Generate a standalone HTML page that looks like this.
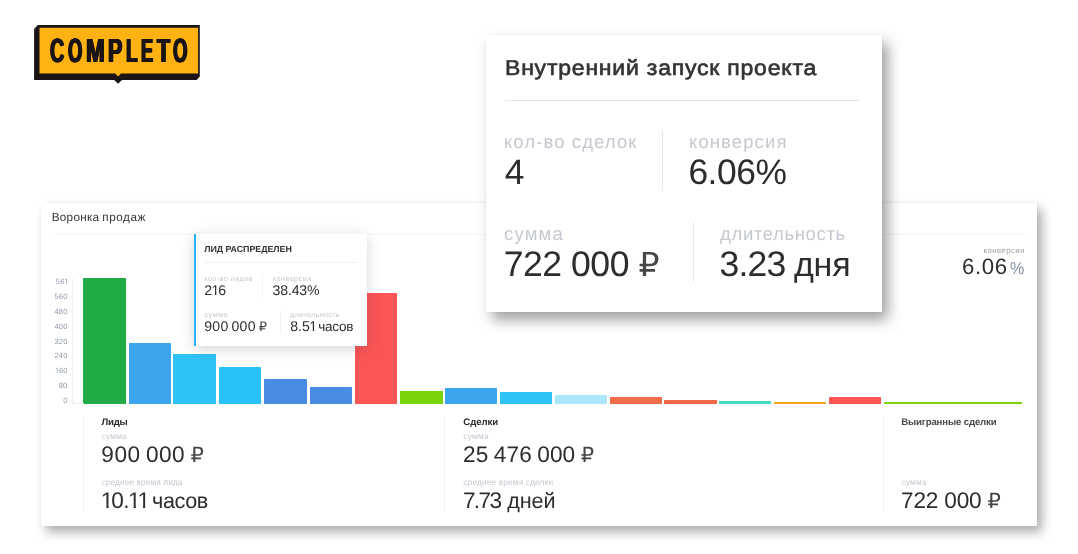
<!DOCTYPE html>
<html lang="ru">
<head>
<meta charset="utf-8">
<title>Completo — Воронка продаж</title>
<style>
*{margin:0;padding:0;box-sizing:border-box}
html,body{width:1078px;height:554px;overflow:hidden;background:#fff}
body{position:relative;font-family:"Liberation Sans", "DejaVu Sans", sans-serif;-webkit-font-smoothing:antialiased;text-rendering:geometricPrecision}
.t{position:absolute;white-space:pre;line-height:1}
.r{font-family:"DejaVu Sans",sans-serif;font-size:0.93em;opacity:.88}
.one{display:inline-block;margin:0 -0.075em 0 -0.045em}

.z1{z-index:1}.z2{z-index:2}.z3{z-index:3}.z4{z-index:4}.z5{z-index:5}.z6{z-index:6}
.abs{position:absolute}
.card{position:absolute;background:#fff}
#main{left:41px;top:203px;width:996px;height:322.5px;z-index:1;border-radius:1.5px;box-shadow:5px 6px 11px rgba(0,0,0,.33),0 0 2px rgba(0,0,0,.05)}
#tip{left:194px;top:234px;width:173px;height:112px;z-index:3;border-left:2px solid #2bb5f5;box-shadow:0 3px 13px rgba(40,50,70,.2)}
#pop{left:486px;top:35px;width:396px;height:276.5px;z-index:5;box-shadow:6px 8px 13px rgba(0,0,0,.37),0 0 2px rgba(0,0,0,.05)}
.ln{position:absolute;background:#ececee}
.bar{position:absolute;z-index:2;border-radius:.6px .6px 0 0}
#logo{position:absolute;left:30px;top:20px;width:180px;height:70px;z-index:1}
#logot{position:absolute;left:0;z-index:2;font-weight:700;font-size:33.6px;line-height:1;color:#1a1416;white-space:nowrap}
#logot span{position:absolute;top:0;transform-origin:0 0;text-shadow:1.2px 0 0 #1a1416,-1.2px 0 0 #1a1416,0.6px 0 0 #1a1416,-0.6px 0 0 #1a1416}
</style>
</head>
<body>
<header id="brand">
<svg id="logo" viewBox="30 20 180 70">
<polygon points="34.1,29 37.9,25.1 199.8,25.1 199.8,76.6 196.6,80.1 122,80.1 118.1,83.8 114.2,80.1 34.1,80.1" fill="#1a1416"/>
<polygon points="39.5,27.7 198.1,27.7 198.1,73.6 121,73.6 118.1,76.5 115.2,73.6 39.5,73.6" fill="#ffb211"/>
</svg>
<div id="logot" style="top:34.66px"><span style="left:49.70px;transform:scaleX(0.587)">C</span><span style="left:67.60px;transform:scaleX(0.548)">O</span><span style="left:85.50px;transform:scaleX(0.668)">M</span><span style="left:108.03px;transform:scaleX(0.640)">P</span><span style="left:126.31px;transform:scaleX(0.565)">L</span><span style="left:140.63px;transform:scaleX(0.541)">E</span><span style="left:156.92px;transform:scaleX(0.636)">T</span><span style="left:173.40px;transform:scaleX(0.555)">O</span></div>
</header>
<main>
<section id="funnel">
<div id="main" class="card"></div>
<div id="chart">
<div class="bar" style="left:83.35px;top:277.6px;width:42.6px;height:126.1px;background:#21ab47"></div>
<div class="bar" style="left:128.7px;top:343.0px;width:42.25px;height:60.7px;background:#3aa4ec"></div>
<div class="bar" style="left:173.35px;top:354.1px;width:42.85px;height:49.6px;background:#2fc3f5"></div>
<div class="bar" style="left:219.0px;top:367.2px;width:42.3px;height:36.5px;background:#29c1f7"></div>
<div class="bar" style="left:264.1px;top:379.3px;width:42.8px;height:24.4px;background:#488ce3"></div>
<div class="bar" style="left:309.7px;top:386.9px;width:42.3px;height:16.8px;background:#488ce3"></div>
<div class="bar" style="left:354.9px;top:293.2px;width:42.3px;height:110.5px;background:#fb5555"></div>
<div class="bar" style="left:400.0px;top:390.5px;width:42.5px;height:13.2px;background:#7bd40a"></div>
<div class="bar" style="left:445.15px;top:387.8px;width:52.2px;height:15.9px;background:#3aa4ec"></div>
<div class="bar" style="left:499.95px;top:392.2px;width:52.2px;height:11.5px;background:#2fc3f5"></div>
<div class="bar" style="left:554.75px;top:394.8px;width:52.2px;height:8.9px;background:#abe6fa"></div>
<div class="bar" style="left:609.55px;top:396.8px;width:52.2px;height:6.9px;background:#f56e4b"></div>
<div class="bar" style="left:664.35px;top:399.9px;width:52.2px;height:3.8px;background:#f06848"></div>
<div class="bar" style="left:719.15px;top:400.9px;width:52.2px;height:2.8px;background:#45dbc0"></div>
<div class="bar" style="left:773.95px;top:401.6px;width:52.2px;height:2.1px;background:#f8a325"></div>
<div class="bar" style="left:828.75px;top:397.0px;width:52.2px;height:6.7px;background:#fb5555"></div>
<div class="bar" style="left:883.7px;top:401.5px;width:138.3px;height:2.2px;background:#7bd40a"></div>
</div>
<div class="ln" style="left:52px;top:234.3px;width:972.5px;height:1px;background:#f5f5f7;z-index:2"></div>
<div class="ln" style="left:72px;top:277.6px;width:1px;height:126px;background:#f1f1f3;z-index:2"></div>
<div class="ln" style="left:72px;top:402.8px;width:12px;height:1px;background:#f1f1f3;z-index:2"></div>
<div class="ln" style="left:83.1px;top:415.8px;width:1px;height:96px;background:#f3f3f5;z-index:2"></div>
<div class="ln" style="left:443.9px;top:415.8px;width:1px;height:96px;background:#f3f3f5;z-index:2"></div>
<div class="ln" style="left:883.2px;top:415.8px;width:1px;height:96px;background:#f3f3f5;z-index:2"></div>
<div class="t z2" style="left:51.7px;top:212.1px;font-size:11.7px;font-weight:400;color:#333;letter-spacing:0.298px;">Воронка</div>
<div class="t z2" style="left:102.31px;top:212.1px;font-size:11.7px;font-weight:400;color:#333;letter-spacing:0.56px;">продаж</div>
<div class="t z2" style="left:55.83px;top:277.57px;font-size:7.6px;font-weight:400;color:#9198a5;letter-spacing:0.2px;">56<span class="one" style="clip-path:polygon(0 0,3.18px 0,3.18px 5.56px,2.68px 5.56px,2.68px 9.6px,1.81px 9.6px,1.81px 5.56px,0 5.56px)">1</span></div>
<div class="t z2" style="left:54.4px;top:292.57px;font-size:7.6px;font-weight:400;color:#9198a5;letter-spacing:0.2px;">560</div>
<div class="t z2" style="left:54.4px;top:307.57px;font-size:7.6px;font-weight:400;color:#9198a5;letter-spacing:0.2px;">480</div>
<div class="t z2" style="left:54.4px;top:322.57px;font-size:7.6px;font-weight:400;color:#9198a5;letter-spacing:0.2px;">400</div>
<div class="t z2" style="left:54.4px;top:337.57px;font-size:7.6px;font-weight:400;color:#9198a5;letter-spacing:0.2px;">320</div>
<div class="t z2" style="left:54.4px;top:351.57px;font-size:7.6px;font-weight:400;color:#9198a5;letter-spacing:0.2px;">240</div>
<div class="t z2" style="left:55.37px;top:366.57px;font-size:7.6px;font-weight:400;color:#9198a5;letter-spacing:0.2px;"><span class="one" style="clip-path:polygon(0 0,3.18px 0,3.18px 5.56px,2.68px 5.56px,2.68px 9.6px,1.81px 9.6px,1.81px 5.56px,0 5.56px)">1</span>60</div>
<div class="t z2" style="left:58.67px;top:381.57px;font-size:7.6px;font-weight:400;color:#9198a5;letter-spacing:0.2px;">80</div>
<div class="t z2" style="left:63.37px;top:396.57px;font-size:7.6px;font-weight:400;color:#9198a5;letter-spacing:0.2px;">0</div>
<div class="t z2" style="left:983.51px;top:247.4px;font-size:7.8px;font-weight:400;color:#9c9c9c;letter-spacing:0.43px;">конверсия</div>
<div class="t z2" style="left:962.0px;top:256.21px;font-size:22.2px;font-weight:400;color:#2d2d2d;letter-spacing:0.632px;">6.06</div>
<div class="t z2" style="left:1010.33px;top:260.44px;font-size:17.2px;font-weight:400;color:#8593a7;transform-origin:0 0;transform:scaleX(0.938);">%</div>
<div class="t z2" style="left:101.6px;top:417.87px;font-size:9.6px;font-weight:700;color:#2a2a2a;letter-spacing:-0.297px;">Лиды</div>
<div class="t z2" style="left:101.64px;top:431.97px;font-size:8.3px;font-weight:400;color:#c5c8d0;letter-spacing:0.266px;">сумма</div>
<div class="t z2" style="left:101.37px;top:443.87px;font-size:22.6px;font-weight:400;color:#2d2d2d;letter-spacing:0.5px;word-spacing:-1.413px;">900 000 <span class="r">₽</span></div>
<div class="t z2" style="left:101.64px;top:477.97px;font-size:8.3px;font-weight:400;color:#c5c8d0;letter-spacing:0.092px;">среднее время лида</div>
<div class="t z2" style="left:101.88px;top:489.87px;font-size:22.6px;font-weight:400;color:#2d2d2d;letter-spacing:-0.5px;"><span class="one" style="clip-path:polygon(0 0,8.28px 0,8.28px 16.14px,7.78px 16.14px,7.78px 24.6px,5.58px 24.6px,5.58px 16.14px,0 16.14px)">1</span>0.<span class="one" style="clip-path:polygon(0 0,8.28px 0,8.28px 16.14px,7.78px 16.14px,7.78px 24.6px,5.58px 24.6px,5.58px 16.14px,0 16.14px)">1</span><span class="one" style="clip-path:polygon(0 0,8.28px 0,8.28px 16.14px,7.78px 16.14px,7.78px 24.6px,5.58px 24.6px,5.58px 16.14px,0 16.14px)">1</span></div>
<div class="t z2" style="left:152.08px;top:489.72px;font-size:21.6px;font-weight:400;color:#2d2d2d;letter-spacing:-0.415px;">часов</div>
<div class="t z2" style="left:463.31px;top:417.87px;font-size:9.6px;font-weight:700;color:#2a2a2a;letter-spacing:-0.067px;">Сделки</div>
<div class="t z2" style="left:463.34px;top:431.97px;font-size:8.3px;font-weight:400;color:#c5c8d0;letter-spacing:0.266px;">сумма</div>
<div class="t z2" style="left:463.03px;top:443.87px;font-size:22.6px;font-weight:400;color:#2d2d2d;letter-spacing:0.1px;word-spacing:-0.903px;">25 476 000 <span class="r">₽</span></div>
<div class="t z2" style="left:463.34px;top:477.97px;font-size:8.3px;font-weight:400;color:#c5c8d0;letter-spacing:0.156px;">среднее время сделки</div>
<div class="t z2" style="left:462.91px;top:489.87px;font-size:22.6px;font-weight:400;color:#2d2d2d;letter-spacing:-1.604px;">7.73</div>
<div class="t z2" style="left:507.26px;top:489.72px;font-size:21.6px;font-weight:400;color:#2d2d2d;letter-spacing:-0.087px;">дней</div>
<div class="t z2" style="left:901.2px;top:417.87px;font-size:9.6px;font-weight:700;color:#484848;letter-spacing:-0.131px;">Выигранные сделки</div>
<div class="t z2" style="left:901.44px;top:477.97px;font-size:8.3px;font-weight:400;color:#c5c8d0;letter-spacing:0.216px;">сумма</div>
<div class="t z2" style="left:901.11px;top:489.87px;font-size:22.6px;font-weight:400;color:#2d2d2d;letter-spacing:-0.184px;">722 000 <span class="r">₽</span></div>
<div id="tooltip">
<div id="tip" class="card"></div>
<div class="ln" style="left:204px;top:261.9px;width:152.5px;height:1px;background:#f0f0f3;z-index:4"></div>
<div class="ln" style="left:262.1px;top:273.8px;width:1px;height:22.8px;background:#f3f3f5;z-index:4"></div>
<div class="ln" style="left:280px;top:309.5px;width:1px;height:23px;background:#f3f3f5;z-index:4"></div>
<div class="t z4" style="left:204.2px;top:245.47px;font-size:8.9px;font-weight:700;color:#333;letter-spacing:-0.037px;">ЛИД РАСПРЕДЕЛЕН</div>
<div class="t z4" style="left:204.26px;top:274.82px;font-size:7.3px;font-weight:400;color:#c5c8d0;letter-spacing:0.362px;">кол-во лидов</div>
<div class="t z4" style="left:204.3px;top:283.06px;font-size:14.1px;font-weight:400;color:#2d2d2d;letter-spacing:-0.091px;">2<span class="one" style="clip-path:polygon(0 0,5.39px 0,5.39px 10.59px,4.89px 10.59px,4.89px 16.1px,3.45px 16.1px,3.45px 10.59px,0 10.59px)">1</span>6</div>
<div class="t z4" style="left:272.76px;top:274.82px;font-size:7.3px;font-weight:400;color:#c5c8d0;letter-spacing:0.43px;">конверсия</div>
<div class="t z4" style="left:272.62px;top:283.06px;font-size:14.1px;font-weight:400;color:#2d2d2d;letter-spacing:-0.174px;">38.43%</div>
<div class="t z4" style="left:204.39px;top:310.82px;font-size:7.3px;font-weight:400;color:#c5c8d0;letter-spacing:0.489px;">сумма</div>
<div class="t z4" style="left:204.13px;top:319.06px;font-size:14.1px;font-weight:400;color:#2d2d2d;letter-spacing:0.3px;word-spacing:-1.304px;">900 000 <span class="r">₽</span></div>
<div class="t z4" style="left:290.11px;top:310.82px;font-size:7.3px;font-weight:400;color:#c5c8d0;letter-spacing:0.265px;">длительность</div>
<div class="t z4" style="left:290.16px;top:319.06px;font-size:14.1px;font-weight:400;color:#2d2d2d;letter-spacing:0.064px;">8.5<span class="one" style="clip-path:polygon(0 0,5.39px 0,5.39px 10.59px,4.89px 10.59px,4.89px 16.1px,3.45px 16.1px,3.45px 10.59px,0 10.59px)">1</span></div>
<div class="t z4" style="left:318.23px;top:319.57px;font-size:13.5px;font-weight:400;color:#2d2d2d;letter-spacing:-0.214px;">часов</div>
</div>
</section>
<aside id="popup">
<div id="pop" class="card"></div>
<div class="ln" style="left:505px;top:99.9px;width:353.6px;height:1px;background:#e4e4e7;z-index:6"></div>
<div class="ln" style="left:662.4px;top:130.4px;width:1px;height:60.6px;background:#e9e9ec;z-index:6"></div>
<div class="ln" style="left:693px;top:221.8px;width:1px;height:60.6px;background:#e9e9ec;z-index:6"></div>
<div class="t z6" style="left:504.57px;top:57.8px;font-size:21.5px;font-weight:400;color:#333;letter-spacing:0.733px;-webkit-text-stroke:0.65px #333;transform-origin:0 0;transform:scaleX(1.07);">Внутренний запуск проекта</div>
<div class="t z6" style="left:503.91px;top:133.34px;font-size:18.5px;font-weight:400;color:#c5c8d0;letter-spacing:1.099px;">кол-во сделок</div>
<div class="t z6" style="left:504.71px;top:155.03px;font-size:35.4px;font-weight:400;color:#2d2d2d;">4</div>
<div class="t z6" style="left:689.01px;top:133.34px;font-size:18.5px;font-weight:400;color:#c5c8d0;letter-spacing:1.103px;">конверсия</div>
<div class="t z6" style="left:688.41px;top:155.03px;font-size:35.4px;font-weight:400;color:#2d2d2d;letter-spacing:-0.474px;">6.06%</div>
<div class="t z6" style="left:504.1px;top:225.34px;font-size:18.5px;font-weight:400;color:#c5c8d0;letter-spacing:1.15px;">сумма</div>
<div class="t z6" style="left:503.69px;top:246.86px;font-size:35.6px;font-weight:400;color:#2d2d2d;letter-spacing:-0.477px;">722 000 <span class="r">₽</span></div>
<div class="t z6" style="left:720.08px;top:225.34px;font-size:18.5px;font-weight:400;color:#c5c8d0;letter-spacing:0.626px;">длительность</div>
<div class="t z6" style="left:719.55px;top:246.86px;font-size:35.6px;font-weight:400;color:#2d2d2d;letter-spacing:-0.854px;">3.23</div>
<div class="t z6" style="left:793.93px;top:248.22px;font-size:34.0px;font-weight:400;color:#2d2d2d;letter-spacing:-0.161px;">дня</div>
</aside>
</main>
</body>
</html>
